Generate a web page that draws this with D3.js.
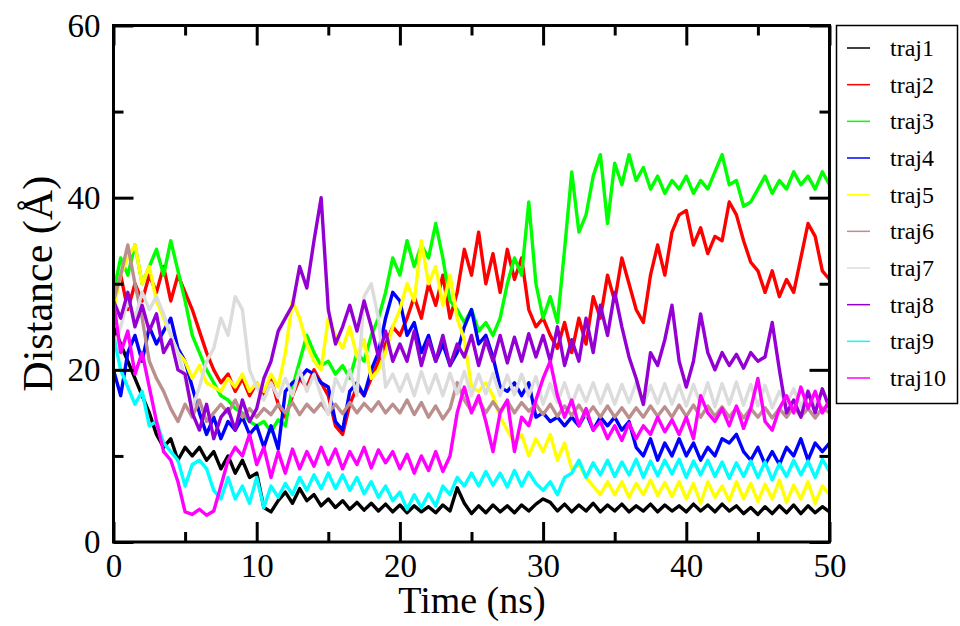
<!DOCTYPE html>
<html>
<head>
<meta charset="utf-8">
<script src="https://cdn.jsdelivr.net/npm/d3@7"></script>
<style>
  html, body { margin: 0; padding: 0; background: #fff; }
  svg { display: block; }
  svg text { font-family: "Liberation Serif", "Times New Roman", Times, "Nimbus Roman", Tinos, "DejaVu Serif", "Noto Serif", serif; fill: #000; }
</style>
</head>
<body>
<svg id="chart" width="960" height="626"></svg>
<script>
// ---- data (time in ns, distance in Å) ----
const time = [
  0,0.5,1,1.5,2,2.5,3,3.5,4,4.5,
  5,5.5,6,6.5,7,7.5,8,8.5,9,9.5,
  10,10.5,11,11.5,12,12.5,13,13.5,14,14.5,
  15,15.5,16,16.5,17,17.5,18,18.5,19,19.5,
  20,20.5,21,21.5,22,22.5,23,23.5,24,24.5,
  25,25.5,26,26.5,27,27.5,28,28.5,29,29.5,
  30,30.5,31,31.5,32,32.5,33,33.5,34,34.5,
  35,35.5,36,36.5,37,37.5,38,38.5,39,39.5,
  40,40.5,41,41.5,42,42.5,43,43.5,44,44.5,
  45,45.5,46,46.5,47,47.5,48,48.5,49,49.5,
  50];

const seriesNames = ["traj1","traj2","traj3","traj4","traj5","traj6","traj7","traj8","traj9","traj10"];
const seriesColors = ["#000000","#ff0000","#00ff00","#0000ff","#ffff00","#bc8f8f","#dcdcdc","#9400d3","#00ffff","#ff00ff"];

const traj1 = [
  25,23,21,19,17,15,12.5,11,12,9.5,
  11,10,11,9.5,10.5,8.5,10,8,9.5,7.5,
  8,4,3.5,4.8,5.8,4.5,6.2,4.8,5.5,4.2,
  5,4,4.8,3.8,4.6,3.7,4.5,3.6,4.4,3.5,
  4.3,3.4,4.2,3.5,4.1,3.4,4.3,3.6,6.3,4.5,
  3.3,4.2,3.4,4.3,3.5,4.2,3.4,4.3,3.6,4.4,
  5,4.6,3.6,4.4,3.5,4.3,3.6,4.5,3.5,4.3,
  3.6,4.4,3.5,4.2,3.6,4.4,3.5,4.3,3.6,4.2,
  3.5,4.4,3.6,4.3,3.5,4.4,3.6,4.2,3.3,4,
  3.2,4.1,3.3,4.2,3.4,4.3,3.3,4.2,3.4,4.1,
  3.5];
const traj2 = [
  28,31,27,30,28,31,29,32,28,31,
  29,27,24.5,22,20,18.5,19.5,17.5,19,17,
  18.5,17,19,16,14.5,17,19,18,20,18.5,
  17,13.5,12.5,16,18,17,19,21,23,25,
  24,26,28.5,26,30,27.5,31,26,29,34,
  31,36,30,33.5,29,34,30.5,33,27,25,
  26,24,22.5,25.5,22,26,23,28.5,26,31,
  28,33,30,27,25.5,31,34.5,31,36,38,
  38.5,34.5,36.5,33.5,35.5,35,39.5,38,35,32.5,
  31.5,29,31.5,28.5,30.5,29,33,37,35.5,31.5,
  30.5];
const traj3 = [
  29,33,31,34.5,30,32,34,31,35,31.5,
  28,24,22,20,18.5,17,16.5,15.5,15,14,
  13.5,14,12.8,14.2,13.5,18,21,24,22,20.5,
  21,19.5,20.5,19,22,21,24,26,29,33,
  31,35,32,34.5,33,37,33,28,27,25.5,
  27,24.5,25.5,24,26,30,33,31,39.5,30,
  26,28.5,25.5,34,43,36,38,42.5,45,37,
  44,41.5,45,42,43.5,41,42.5,40.5,42,41,
  42.5,40.5,42,41,43,45,41.5,42,39,39.5,
  41,42.5,40.5,42,41,43,41.5,42.5,41,43,
  41.5];
const traj4 = [
  20,17,22,24,21,25,23,24.5,26,22.5,
  21,18,15,12.5,14.5,12,14,13,14.5,12.5,
  13.5,11,13.5,10.8,17.5,18.5,19,20,19.5,18.5,
  18,14,13,17.5,18.5,17,20,22,26,29,
  28,24,25.5,22,24,21,23,20.5,22,25,
  27,23,24,21.5,18,17.5,18.5,17,18.5,14.5,
  15,14,14.5,13.5,14.5,13.5,15,13,14.5,13.5,
  14.5,13,14,11,10,12,9.5,11.5,10,12,
  10,11.5,9.5,11,10,12,11.5,12.5,10.5,9.5,
  11,9,10.5,9,11,10,12,9.5,11.5,10.5,
  11.5];
const traj5 = [
  27,31,33,34.5,30,32,28,26,24,22,
  21,19,20.5,18.5,18,17.5,19,18,19.5,17.5,
  18.5,17.5,19.5,18,22,28,26,23,21,20,
  26,24,22.5,25,21.5,23.5,19,20,22,25,
  27,30,28,35,30,32,27.5,31,26,23.5,
  18,17.5,18.5,17,14.5,13,11.5,12.5,10,12,
  10.5,12.5,9.5,11.5,8.5,9,7.5,6.5,5.5,7,
  5.5,7,5.2,6.8,5.5,7.2,5.4,6.9,5.3,7,
  5,6.8,4.5,7,5.2,6.5,4.8,7,5,6.8,
  4.7,6.7,5,7.2,4.6,6.6,5,7,4.5,6.5,
  5.5];
const traj6 = [
  28,31,34.5,30,26,21,19,17.5,15.5,14,
  16,14.5,16.5,14,15,16,15,16.5,14.5,15.5,
  14.5,15.5,14.8,16,15,16.2,14.8,16,15.1,16.1,
  15,16,14.9,16.2,15,16.1,15.2,16.3,15,16,
  15,16.5,14.8,16.2,14.5,15.8,14.3,15.5,18.5,16.5,
  15.2,16.5,15,16.3,15.1,16.4,15,16.2,15.2,16,
  14.8,16,14.6,15.8,14.7,15.9,14.6,15.7,14.5,15.8,
  14.5,15.6,14.4,15.6,14.5,15.8,14.6,15.7,14.5,15.9,
  14.6,15.9,14.5,15.8,14.6,15.7,14.5,15.6,14.4,15.5,
  14.5,15.6,14.4,15.5,14.5,15.7,14.6,15.5,14.4,15.6,
  15];
const traj7 = [
  22,25,28,26,29,27,28.5,26.5,24,22,
  19,15.5,18,21,22.5,26,24,28.5,27,20,
  18,16.5,18.5,16.8,19,17,20,17.5,19.5,17,
  14.8,19,17.5,20,17,28.5,30,26,18,19.5,
  17.5,19.5,17,19.8,17.3,19.5,17,19.6,17.2,19.8,
  17,19.5,17.2,19.6,17,19.4,17.1,19.5,17,19.2,
  16,18.4,16.2,18.5,16,18.2,16.3,18.5,16.1,18.3,
  16,18.3,16.2,18.5,15.9,18.2,16.1,18.4,16,18.2,
  15.8,18.3,16,18.5,15.7,18.4,16,18.6,15.9,18.3,
  15.8,18.2,15.6,17.5,16,17.8,15.7,17.6,16,17.5,
  16.5];
const traj8 = [
  28,26,29,25,27.5,24.5,26.5,22,23.5,20,
  19.5,15,13,16,12,14.5,15.5,13,16.5,14,
  15.5,19,21,24.5,26,27.5,32,29.5,35,40,
  27,23,25,27.5,24.5,28,25,21.5,24.5,21,
  23,21,24.5,20.5,23.5,21,24,20.5,23,21.5,
  24,20.5,23.5,21,24,20.8,23.8,21,24.2,21.5,
  24,21,25,20.5,23.5,21,26,22,27.5,24,
  29,25,21.5,19,16,22,20.5,23.5,27.5,21,
  18,21,26.5,22,20,22,20.5,21.8,20.2,22,
  21,21.5,25.5,20,15,16.5,14.5,17.5,15,17.8,
  15.5];
const traj9 = [
  24,20,18,16,17.5,13.5,14,11.5,10.5,9.5,
  6.5,9,9.5,8.5,6,5,7.5,5,6.5,4.5,
  7.5,4,6.5,5.2,6.8,5.5,7.5,6,7.8,6.2,
  8,6.2,7.8,6,7.5,5.6,7,5.2,6.5,4.8,
  5.8,3.8,5.5,4,5.6,4.2,6.5,5.5,7.5,6.5,
  8,6.5,8.2,6.6,8,6.4,8.3,6.5,8.1,6.8,
  6,7,5.5,7.5,8,9.5,7.5,9.2,7.8,9.5,
  7.6,9.3,7.8,9.6,7.5,9.4,7.7,9.5,7.9,9.6,
  7.5,9.4,7.8,9.5,7.6,9.3,7.4,9.2,7.6,9.4,
  7.5,9.3,7.2,9.1,7.6,9.5,7.8,9.4,7.5,9.6,
  8.2];
const traj10 = [
  28,22,24.5,19.5,22,18,14,10.5,9.5,7,
  3.5,3.2,3.8,3.1,3.6,6.5,9.5,11,10,12.5,
  9,11,7.5,10.5,8,10.8,8.5,10.5,8.8,11,
  9,10.8,8.5,10.5,9,11,8.6,10.7,9.2,10.5,
  8.5,10.2,8,10,8.3,10.5,8.2,10,15,18,
  15,17,14,10.5,15,16.5,10.5,14.5,13.5,16.5,
  19,21,17,14.5,16.5,13.5,15.5,13,14,12,
  13.5,11.8,13.8,12,13.5,12.5,14.5,12.8,14.2,12.5,
  14.5,12,17,15,14,15.5,13.5,15.8,13.2,15.5,
  19,14,13,15.5,17,15,18,15.5,17.5,15,
  16.5];

const seriesValues = [traj1, traj2, traj3, traj4, traj5, traj6, traj7, traj8, traj9, traj10];

const xMajorTicks = [0, 10, 20, 30, 40, 50];
const xMinorTicks = [5, 15, 25, 35, 45];
const yMajorTicks = [0, 20, 40, 60];
const yMinorTicks = [10, 30, 50];

// ---- layout ----
const L = 113.5, R = 829.5, T = 25.5, B = 542;
const FONT = "'Liberation Serif', 'Times New Roman', Times, 'Nimbus Roman', Tinos, 'DejaVu Serif', 'Noto Serif', serif";
const svg = d3.select("#chart");

const x = d3.scaleLinear().domain([0, 50]).range([L, R]);
const y = d3.scaleLinear().domain([0, 60]).range([B, T]);

svg.append("defs").append("clipPath").attr("id", "plotclip")
  .append("rect").attr("x", L).attr("y", T).attr("width", R - L).attr("height", B - T);

// ---- lines ----
const line = d3.line().x((d, i) => x(time[i])).y(d => y(d));
const gLines = svg.append("g").attr("clip-path", "url(#plotclip)");
seriesValues.forEach((vals, k) => {
  gLines.append("path")
    .datum(vals)
    .attr("d", line)
    .attr("fill", "none")
    .attr("stroke", seriesColors[k])
    .attr("stroke-width", 3.4)
    .attr("stroke-linejoin", "round");
});

// ---- axes ----
function styleAxis(g) {
  g.attr("font-family", FONT);
  g.select(".domain").remove();
  g.selectAll(".tick line").attr("stroke", "#000").attr("stroke-width", 3);
  g.selectAll(".tick text")
    .attr("font-family", FONT)
    .attr("font-size", 33)
    .attr("fill", "#000");
}

// bottom
svg.append("g").attr("transform", `translate(0,${B})`)
  .call(d3.axisBottom(x).tickValues(xMajorTicks).tickFormat(d3.format("d"))
    .tickSizeInner(-20).tickSizeOuter(0).tickPadding(12))
  .call(styleAxis);
svg.append("g").attr("transform", `translate(0,${B})`)
  .call(d3.axisBottom(x).tickValues(xMinorTicks).tickFormat("")
    .tickSizeInner(-10).tickSizeOuter(0))
  .call(styleAxis);
// top
svg.append("g").attr("transform", `translate(0,${T})`)
  .call(d3.axisTop(x).tickValues(xMajorTicks).tickFormat("")
    .tickSizeInner(-20).tickSizeOuter(0))
  .call(styleAxis);
svg.append("g").attr("transform", `translate(0,${T})`)
  .call(d3.axisTop(x).tickValues(xMinorTicks).tickFormat("")
    .tickSizeInner(-10).tickSizeOuter(0))
  .call(styleAxis);
// left
svg.append("g").attr("transform", `translate(${L},0)`)
  .call(d3.axisLeft(y).tickValues(yMajorTicks).tickFormat(d3.format("d"))
    .tickSizeInner(-20).tickSizeOuter(0).tickPadding(13))
  .call(styleAxis);
svg.append("g").attr("transform", `translate(${L},0)`)
  .call(d3.axisLeft(y).tickValues(yMinorTicks).tickFormat("")
    .tickSizeInner(-10).tickSizeOuter(0))
  .call(styleAxis);
// right
svg.append("g").attr("transform", `translate(${R},0)`)
  .call(d3.axisRight(y).tickValues(yMajorTicks).tickFormat("")
    .tickSizeInner(-20).tickSizeOuter(0))
  .call(styleAxis);
svg.append("g").attr("transform", `translate(${R},0)`)
  .call(d3.axisRight(y).tickValues(yMinorTicks).tickFormat("")
    .tickSizeInner(-10).tickSizeOuter(0))
  .call(styleAxis);

// frame
svg.append("rect").attr("x", L).attr("y", T).attr("width", R - L).attr("height", B - T)
  .attr("fill", "none").attr("stroke", "#000").attr("stroke-width", 3);

// axis titles
svg.append("text").attr("x", 472).attr("y", 613)
  .attr("text-anchor", "middle").attr("font-family", FONT).attr("font-size", 38).text("Time (ns)");
svg.append("text").attr("transform", `translate(52,${(T + B) / 2}) rotate(-90)`)
  .attr("text-anchor", "middle").attr("font-family", FONT).attr("font-size", 42).text("Distance (Å)");

// ---- legend ----
const lg = svg.append("g");
lg.append("rect").attr("x", 836.5).attr("y", 25.5).attr("width", 121).attr("height", 378)
  .attr("fill", "#fff").attr("stroke", "#000").attr("stroke-width", 1.5);
const legY = d3.scalePoint().domain(seriesNames).range([48, 378]);
seriesNames.forEach((name, k) => {
  const yy = legY(name);
  lg.append("line").attr("x1", 847).attr("x2", 870).attr("y1", yy).attr("y2", yy)
    .attr("stroke", seriesColors[k]).attr("stroke-width", 1.5);
  lg.append("text").attr("x", 890).attr("y", yy + 8)
    .attr("font-family", FONT).attr("font-size", 24).text(name);
});
</script>
</body>
</html>
